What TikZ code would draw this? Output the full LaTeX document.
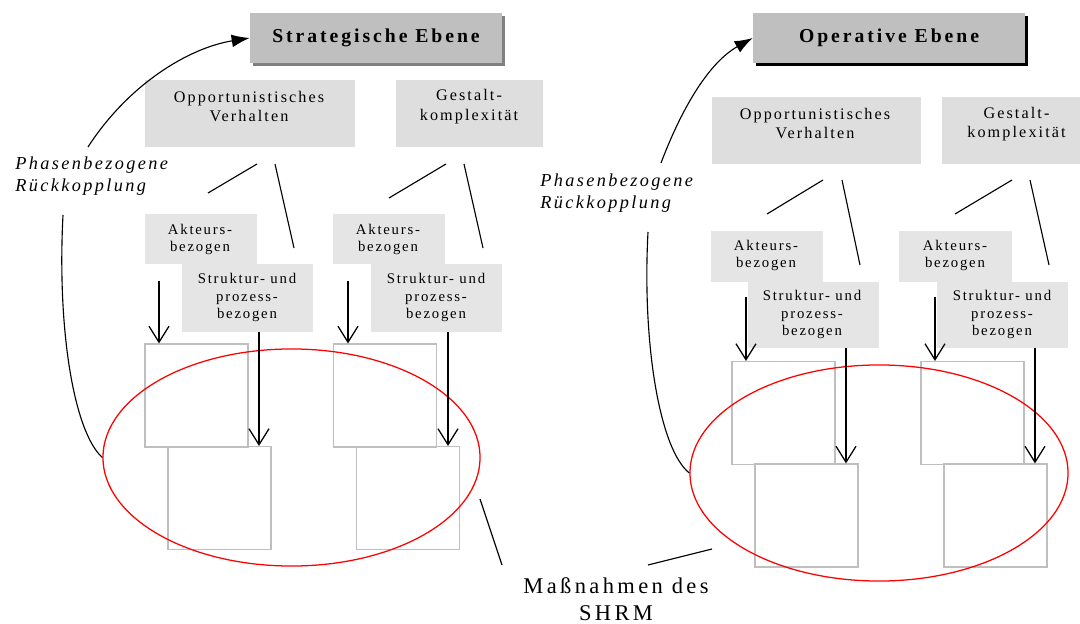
\documentclass[tikz,border=0pt]{standalone}
\usepackage{fontspec}
\setmainfont{Liberation Serif}
\newfontfamily\sperrsatz[LetterSpace=15]{Liberation Serif}
\newfontfamily\sperrsatzb[LetterSpace=13]{Liberation Serif}
\newfontfamily\sperrsatzc[LetterSpace=12]{Liberation Serif}
\usetikzlibrary{arrows.meta,shadows,shapes.geometric}

\tikzset{
	ebene/.style={fill=black!25, inner sep=0pt, font=\sperrsatz\bfseries\fontsize{14}{17}\selectfont,
		drop shadow={shadow xshift=0.08cm, shadow yshift=-0.08cm, fill=#1, opacity=1}},
	ebene/.default=black!50,
	faktor/.style={align=center, inner sep=0pt, font=\sperrsatzb\fontsize{11.5}{14}\selectfont},
	bezug/.style={align=center, inner sep=0pt, font=\sperrsatzc\fontsize{10.5}{12.4}\selectfont},
	phase/.style={align=left, anchor=west, inner sep=0pt, font=\sperrsatzb\itshape\fontsize{13}{15.5}\selectfont},
	massn/.style={align=center, inner sep=0pt, font=\sperrsatz\fontsize{16}{19}\selectfont},
	feld/.style={draw=black!25, line width=0.8pt, minimum size=2.575cm, inner sep=0pt},
	kreis/.style={draw=red, ellipse, line width=0.9pt, inner sep=0pt},
	pfeil/.style={-{Straight Barb[length=0.4cm, width=0.5cm]}, line width=0.9pt},
	rueck/.style={-{Latex[length=0.45cm, width=0.32cm]}, line width=0.8pt},
	strich/.style={line width=0.8pt}
}

\begin{document}
\begin{tikzpicture}[x=0.025cm, y=-0.025cm]
			\useasboundingbox (0,0) rectangle (1080,624);
			
			%%%%% STRATEGISCHE EBENE %%%%%
			
			\node[ebene, minimum width=6.3cm, minimum height=1.25cm] (strat) at (376,38) {Strategische Ebene};
			
			\fill[black!13] (145,80) rectangle (355,147);
			\fill[black!13] (396,80) rectangle (543,147);
			\node[faktor] (opp1) at (249,106.5) {Opportunistisches\\Verhalten};
			\node[faktor] (ges1) at (469,106.5) {Gestalt-\\komplexität};
			
			\coordinate (o1a) at (257,164); \coordinate (o1b) at (208,193);
			\coordinate (o1c) at (275,164); \coordinate (o1d) at (294,248);
			\coordinate (g1a) at (446,164); \coordinate (g1b) at (389,198);
			\coordinate (g1c) at (464,164); \coordinate (g1d) at (483,248);
			\draw[strich] (o1a) -- (o1b);
			\draw[strich] (o1c) -- (o1d);
			\draw[strich] (g1a) -- (g1b);
			\draw[strich] (g1c) -- (g1d);
			
			\fill[black!10] (145,214) rectangle (257,264);
			\fill[black!10] (333,214) rectangle (445,264);
			\node[bezug] (akt1) at (200,239.5) {Akteurs-\\bezogen};
			\node[bezug] (akt2) at (388,239.5) {Akteurs-\\bezogen};
			\fill[black!10] (182,264) rectangle (313,332);
			\fill[black!10] (371,264) rectangle (502,332);
			\node[bezug] (str1) at (247,297.5) {Struktur- und\\prozess-\\bezogen};
			\node[bezug] (str2) at (436,297.5) {Struktur- und\\prozess-\\bezogen};
			
			\node[feld] (m1) at (196.5,395.5) {};
			\node[feld] (m2) at (219.5,498) {};
			\node[feld] (m3) at (385,395.5) {};
			\node[feld] (m4) at (408,498) {};
			
			\node[kreis, minimum width=9.425cm, minimum height=5.425cm] (shrm1) at (291.5,457.5) {};
			
			\coordinate (p1) at (159,281);
			\coordinate (p2) at (259,332);
			\coordinate (p3) at (348,281);
			\coordinate (p4) at (448,332);
			\draw[pfeil] (p1) -- (p1 |- m1.north);
			\draw[pfeil] (p2) -- (p2 |- m2.north);
			\draw[pfeil] (p3) -- (p3 |- m3.north);
			\draw[pfeil] (p4) -- (p4 |- m4.north);
			
			% Rueckkopplung links
			\node[phase] (phase1) at (15,176.5) {Phasenbezogene\\Rückkopplung};
			\coordinate (r1a) at (88,147);
			\coordinate (r1b) at (63,215);
			\draw[rueck] (r1a) .. controls (128,85) and (188,48) .. (strat.west);
			\draw[strich] (r1b) .. controls (57,330) and (74,432) .. (shrm1.west);
			
			%%%%% OPERATIVE EBENE %%%%%
			
			\node[ebene=black, minimum width=6.8cm, minimum height=1.25cm] (oper) at (889,38) {Operative Ebene};
			
			\fill[black!13] (712,97) rectangle (921,164);
			\fill[black!13] (942,97) rectangle (1080,164);
			\node[faktor] (opp2) at (815,123.5) {Opportunistisches\\Verhalten};
			\node[faktor] (ges2) at (1016.5,124) {Gestalt-\\komplexität};
			
			\coordinate (o2a) at (823,180); \coordinate (o2b) at (767,214);
			\coordinate (o2c) at (842,180); \coordinate (o2d) at (860,265);
			\coordinate (g2a) at (1012,180); \coordinate (g2b) at (955,214);
			\coordinate (g2c) at (1030,180); \coordinate (g2d) at (1049,265);
			\draw[strich] (o2a) -- (o2b);
			\draw[strich] (o2c) -- (o2d);
			\draw[strich] (g2a) -- (g2b);
			\draw[strich] (g2c) -- (g2d);
			
			\fill[black!10] (711,231) rectangle (823,282);
			\fill[black!10] (899,231) rectangle (1012,282);
			\node[bezug] (akt3) at (766,255.5) {Akteurs-\\bezogen};
			\node[bezug] (akt4) at (955,255.5) {Akteurs-\\bezogen};
			\fill[black!10] (748,282) rectangle (879,348);
			\fill[black!10] (937,282) rectangle (1068,348);
			\node[bezug] (str3) at (812,314.5) {Struktur- und\\prozess-\\bezogen};
			\node[bezug] (str4) at (1002,314.5) {Struktur- und\\prozess-\\bezogen};
			
			\node[feld] (m5) at (783.5,413) {};
			\node[feld] (m6) at (806.5,515.5) {};
			\node[feld] (m7) at (972.5,413) {};
			\node[feld] (m8) at (995.5,515.5) {};
			
			\node[kreis, minimum width=9.45cm, minimum height=5.4cm] (shrm2) at (879,473) {};
			
			\coordinate (p5) at (746,297);
			\coordinate (p6) at (846,348);
			\coordinate (p7) at (935,297);
			\coordinate (p8) at (1035,348);
			\draw[pfeil] (p5) -- (p5 |- m5.north);
			\draw[pfeil] (p6) -- (p6 |- m6.north);
			\draw[pfeil] (p7) -- (p7 |- m7.north);
			\draw[pfeil] (p8) -- (p8 |- m8.north);
			
			% Rueckkopplung rechts
			\node[phase] (phase2) at (540,193.5) {Phasenbezogene\\Rückkopplung};
			\coordinate (r2a) at (661,163);
			\coordinate (r2b) at (648,232);
			\draw[rueck] (r2a) .. controls (683,105) and (710,62) .. (oper.west);
			\draw[strich] (r2b) .. controls (642,345) and (660,450) .. (shrm2.west);
			
			%%%%% MASSNAHMEN %%%%%
			
			\node[massn] (shrm) at (616,599.5) {Maßnahmen des\\SHRM};
			\coordinate (z1a) at (480,499); \coordinate (z1b) at (502,565);
			\coordinate (z2a) at (648,565); \coordinate (z2b) at (712,549);
			\draw[strich] (z1a) -- (z1b);
			\draw[strich] (z2a) -- (z2b);
			
\end{tikzpicture}
\end{document}
